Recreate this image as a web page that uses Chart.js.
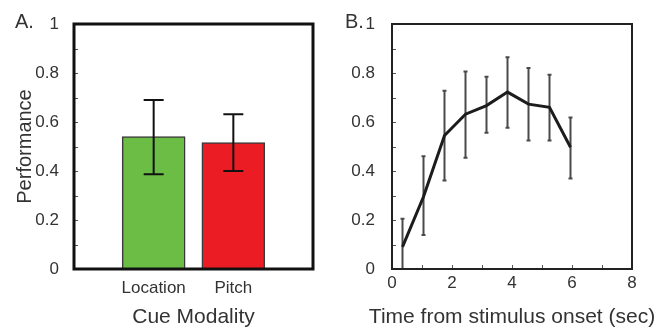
<!DOCTYPE html>
<html>
<head>
<meta charset="utf-8">
<script src="https://cdn.jsdelivr.net/npm/chart.js@4/dist/chart.umd.min.js"></script>
<style>
  body { margin: 0; background: #fff; }
  #wrap { position: relative; width: 657px; height: 328px; overflow: hidden; }
  canvas { position: absolute; top: 0; }
  .panel { position: absolute; font-family: "Liberation Sans", Arial, sans-serif; font-size: 20px; color: #333; line-height: 1; }
</style>
</head>
<body>
<div id="wrap">
  <canvas id="chartA" width="330" height="328" style="left:0"></canvas>
  <canvas id="chartB" width="327" height="328" style="left:330px"></canvas>
  <div class="panel" style="left:15px; top:11px">A.</div>
  <div class="panel" style="left:345px; top:11px">B.</div>
</div>
<script>
// panel A - performance per cue modality
const cueLabels = ['Location', 'Pitch'];
const cuePerf = [0.54, 0.516];
const cueErrLow = [0.387, 0.40];
const cueErrHigh = [0.69, 0.632];
const cueColors = ['#6cbd45', '#ec1c24'];

// panel B - performance over time
const timeSec = [0.35, 1.05, 1.75, 2.45, 3.15, 3.85, 4.55, 5.25, 5.95];
const timePerf = [0.09, 0.295, 0.545, 0.632, 0.667, 0.722, 0.673, 0.66, 0.497];
const timeErrLow = [0.0, 0.139, 0.361, 0.454, 0.556, 0.577, 0.525, 0.525, 0.369];
const timeErrHigh = [0.205, 0.46, 0.728, 0.806, 0.785, 0.864, 0.82, 0.793, 0.618];

const yTickLabels = ['0', '0.2', '0.4', '0.6', '0.8', '1'];
const timeTickLabels = ['0', '', '2', '', '4', '', '6', '', '8'];
const timeTitle = 'Time from stimulus onset (sec)';

const textColor = '#333';
const fontFamily = 'Liberation Sans, Arial, sans-serif';
const tickFont = { family: fontFamily, size: 17 };

// frame, inward tick marks and error bars
function framePlugin(lineW, color, xStep) {
    return {
        id: 'frame',
        afterDatasetsDraw(chart) {
            const { ctx, chartArea: a, scales } = chart;
            ctx.save();
            ctx.strokeStyle = '#555';
            ctx.lineWidth = 1;
            for (let v = 0.1; v < 1; v += 0.1) {
                const y = Math.round(scales.y.getPixelForValue(v)) + 0.5;
                ctx.beginPath();
                ctx.moveTo(a.left, y);
                ctx.lineTo(a.left + 4, y);
                ctx.stroke();
            }
            if (xStep) {
                for (let v = xStep; v < scales.x.max; v += xStep) {
                    const x = Math.round(scales.x.getPixelForValue(v)) + 0.5;
                    ctx.beginPath();
                    ctx.moveTo(x, a.bottom);
                    ctx.lineTo(x, a.bottom - 4);
                    ctx.stroke();
                }
            }
            ctx.strokeStyle = color;
            ctx.lineWidth = lineW;
            ctx.strokeRect(a.left, a.top, a.right - a.left, a.bottom - a.top);
            ctx.restore();
        }
    };
}

function errorBarPlugin(xs, lows, highs, color, width, cap, before) {
    const draw = (chart) => {
        const { ctx, scales } = chart;
        ctx.save();
        ctx.strokeStyle = color;
        ctx.lineWidth = width;
        xs.forEach((xv, i) => {
            const x = scales.x.getPixelForValue(xv);
            const y1 = scales.y.getPixelForValue(lows[i]);
            const y2 = scales.y.getPixelForValue(highs[i]);
            ctx.beginPath();
            ctx.moveTo(x, y1); ctx.lineTo(x, y2);
            ctx.moveTo(x - cap, y1); ctx.lineTo(x + cap, y1);
            ctx.moveTo(x - cap, y2); ctx.lineTo(x + cap, y2);
            ctx.stroke();
        });
        ctx.restore();
    };
    return before ? { id: 'errbars', beforeDatasetsDraw: draw } : { id: 'errbars', afterDatasetsDraw: draw };
}

// axis title wider than the plot, drawn without Chart.js squeezing it
const wideTitle = {
    id: 'wideTitle',
    afterDraw(chart) {
        const { ctx, chartArea: a } = chart;
        ctx.save();
        ctx.font = '21px ' + fontFamily;
        ctx.fillStyle = textColor;
        ctx.textAlign = 'center';
        ctx.textBaseline = 'middle';
        ctx.fillText(timeTitle, (a.left + a.right) / 2, a.bottom + 48);
        ctx.restore();
    }
};

function yAxis(padding, width, title) {
    return {
        min: 0, max: 1,
        grid: { display: false },
        border: { display: false },
        ticks: {
            stepSize: 0.2, padding: padding, color: textColor, font: tickFont,
            callback: (v) => yTickLabels[Math.round(v / 0.2)]
        },
        title: title,
        afterFit: (s) => { s.width = width; }
    };
}

new Chart(document.getElementById('chartA'), {
    type: 'bar',
    data: {
        datasets: [{
            data: cuePerf.map((v, i) => ({ x: i + 1, y: v })),
            backgroundColor: cueColors,
            borderColor: '#3a3a3a',
            borderWidth: 1.5,
            barThickness: 63
        }]
    },
    options: {
        responsive: false,
        animation: false,
        layout: { padding: { top: 24, right: 17, left: 0, bottom: 0 } },
        plugins: { legend: { display: false }, tooltip: { enabled: false } },
        scales: {
            x: {
                type: 'linear', min: 0, max: 3, offset: false,
                grid: { display: false },
                border: { display: false },
                ticks: {
                    stepSize: 1, padding: 1, color: textColor, font: tickFont,
                    callback: (v) => cueLabels[v - 1] || ''
                },
                title: {
                    display: true, text: 'Cue Modality', color: textColor,
                    font: { family: fontFamily, size: 21, lineHeight: 1 },
                    padding: { top: 0, bottom: 0 }
                },
                afterFit: (s) => { s.height = 59; }
            },
            y: yAxis(7, 74, {
                display: true, text: 'Performance', color: textColor,
                font: { family: fontFamily, size: 20, lineHeight: 1 },
                padding: { top: 15, bottom: 0 }
            })
        }
    },
    plugins: [
        errorBarPlugin([1, 2], cueErrLow, cueErrHigh, '#111', 2, 10, false),
        framePlugin(3, '#111', 0)
    ]
});

new Chart(document.getElementById('chartB'), {
    type: 'line',
    data: {
        datasets: [{
            data: timeSec.map((t, i) => ({ x: t, y: timePerf[i] })),
            borderColor: '#1c1c1c',
            borderWidth: 3,
            pointRadius: 0,
            tension: 0
        }]
    },
    options: {
        responsive: false,
        animation: false,
        layout: { padding: { top: 24, right: 25, left: 0, bottom: 0 } },
        plugins: { legend: { display: false }, tooltip: { enabled: false } },
        scales: {
            x: {
                type: 'linear', min: 0, max: 8,
                grid: { display: false },
                border: { display: false },
                ticks: {
                    stepSize: 1, padding: -4, color: textColor, font: tickFont,
                    autoSkip: false, maxRotation: 0,
                    callback: (v) => timeTickLabels[v]
                },
                afterFit: (s) => { s.height = 59; }
            },
            y: yAxis(9, 62, { display: false })
        }
    },
    plugins: [
        errorBarPlugin(timeSec, timeErrLow, timeErrHigh, '#4a4a4a', 2, 2, true),
        framePlugin(2, '#222', 1),
        wideTitle
    ]
});
</script>
</body>
</html>
